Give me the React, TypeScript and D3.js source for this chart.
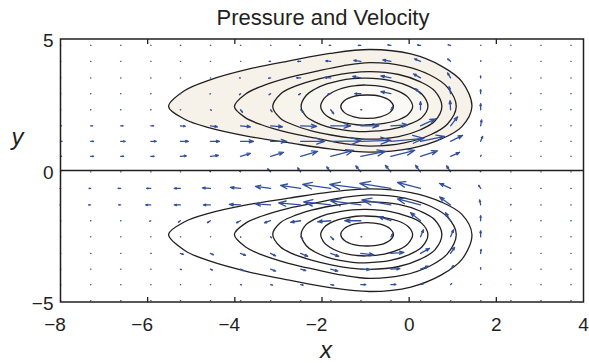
import React from 'react';
import * as d3 from 'd3';

const width = 589;
const height = 363;
const plot = { left: 60.5, right: 583.5, top: 39, bottom: 302 };

const xTicks = [-8, -6, -4, -2, 0, 2, 4];
const yTicks = [-5, 0, 5];

// quiver grid
const gridX = [-8.0, -7.31, -6.62, -5.93, -5.25, -4.56, -3.87, -3.18, -2.49, -1.8, -1.11, -0.42, 0.26, 0.95, 1.64, 2.33, 3.02, 3.71];
const gridY = [-4.95, -4.34, -3.75, -3.15, -2.52, -1.91, -1.31, -0.68, -0.05, 0.54, 1.11, 1.7, 2.31, 2.92, 3.52, 4.15, 4.76];

// velocity, one row per gridY value (bottom row first)
const uVel = [
  [.3, .3, .3, .3, .3, .3, .3, .3, .3, .3, .3, .3, .3, .3, .3, .3, .3, .3],
  [.3, .3, .3, .3, .3, .3, 1, 2, 2.5, 3, 5, 5, 3, 1, .3, .3, .3, .3],
  [.3, .3, .3, .3, 1, 2, 3, 5, 5, 7, 9, 9, 8, 3, 0, .3, .3, .3],
  [.3, .3, .3, .5, 3, 3, 5, 5, 7, 8, 13, 13, 9, 4, .5, .3, .3, .3],
  [.3, .3, .3, .3, .3, .3, .3, 1, 2, 3, 1, 2, 3, 3, 0, .3, .3, .3],
  [.3, .3, .3, -1, -2, -3, -4, -6, -10, -13, -16, -12, -10, -5, 0, .3, .3, .3],
  [-.5, -2, -2, -5, -6, -7, -11, -15, -22, -27, -30, -29, -23, -11, -1, .3, .3, .3],
  [-.5, -1.5, -2.5, -4, -6, -8, -10, -15, -20, -28, -31, -31, -23, -11, -2, .3, .3, .3],
  [.3, .3, .3, .3, .3, -.5, -1, -3, -3, -4, -5, -5.5, -5, -4, -.5, .3, .3, .3],
  [1, 3, 3, 3.5, 6, 8, 10, 13, 17, 23, 25, 24, 17, 9, .5, .3, .3, .3],
  [1.5, 3, 4.5, 5.5, 8, 9, 13, 16, 24, 30, 30, 33, 24, 12, 2, .5, .3, .3],
  [1, 2, 2.5, 3, 5, 7, 10, 12, 16, 20, 18, 17, 15, 7, 1, .3, .3, .3],
  [.3, .3, .3, .3, .3, 1, 2, 1.5, 3, 3, 1, 2, 0, -.5, 0, .2, .3, .3],
  [.3, .3, .3, .3, .3, -.5, -1, -1.5, -2, -3, -6, -10, -5, -1.5, 0, .2, .3, .3],
  [.3, .3, .3, .3, .3, .3, -1, -2, -4, -6, -8, -10, -7, -3, 0, .3, .3, .3],
  [.3, .3, .3, .3, .3, .3, .3, -1.5, -3, -5, -7, -8, -6, -3, .2, .3, .3, .3],
  [.3, .3, .3, .3, .3, .3, .3, .3, -1, -1.5, -2.5, -3, -3, -2.5, .3, .3, .3, .3],
];
const vVel = [
  [0, 0, 0, 0, 0, 0, 0, 0, 0, 0, 0, 0, 0, 0, 0, 0, 0, 0],
  [0, 0, 0, 0, 0, 0, -.3, -.5, -.5, -.5, 0, .3, 1, 1, .3, 0, 0, 0],
  [0, 0, 0, 0, -.5, -1, -1.5, -2, -1.5, -2, -.5, .5, 3, 3.5, 1.5, 0, 0, 0],
  [0, 0, 0, 0, -1, -1.5, -2, -2.5, -3, -3, -1.5, 1, 5, 6, 4, .5, 0, 0],
  [0, 0, 0, 0, 0, 0, -.5, -1, -2, -3, 0, 3, 7, 7, 6, .5, 0, 0],
  [0, 0, 0, -.5, -1.5, -2, -2, -2, -1.5, -1, 0, 4, 8, 8, 5, .5, 0, 0],
  [0, 0, 0, 0, 0, 0, .5, 1, 2, 3, 4, 5, 6, 8, 5, .5, 0, 0],
  [0, 0, 0, 0, 0, .5, 1, 2, 3, 4, 4, 5, 6, 5, 3, 0, 0, 0],
  [0, 0, 0, 0, 0, .5, 1, 3, 4, 5, 6, 6.5, 6.5, 6, 1, 0, 0, 0],
  [0, 0, 0, 0, .5, 1, 3, 4, 5, 6, 5, 6, 5.5, 4, 1, 0, 0, 0],
  [0, 0, 0, 0, 0, 0, 0, 0, 0, .5, 1, 3, 5, 6, 5, .5, 0, 0],
  [0, 0, 0, 0, -.5, -1, -1, -1, -.5, 0, 0, 1, 7, 9, 6, 1, 0, 0],
  [0, 0, 0, 0, 0, -.5, -2.5, -2, -3, -4, 0, 3, 8, 9, 6, .5, 0, 0],
  [0, 0, 0, 0, 0, -.3, -1, -1, -1, -.5, 0, 2, 5, 7, 4, .5, 0, 0],
  [0, 0, 0, 0, 0, 0, 0, -.3, 0, .5, 1.5, 2, 4, 5, 2, 0, 0, 0],
  [0, 0, 0, 0, 0, 0, 0, 0, 0, .5, 1, 1.5, 2.5, 2.5, .8, 0, 0, 0],
  [0, 0, 0, 0, 0, 0, 0, 0, 0, 0, 0, .3, .5, .5, 0, 0, 0, 0],
];

// pressure contours in the upper half, outermost first
const upperContours = [
  [[-5.52, 2.43], [-5.15, 3.04], [-4.6, 3.43], [-3.67, 3.86], [-2.75, 4.17], [-1.82, 4.45], [-0.9, 4.6], [0.04, 4.43], [0.74, 3.97], [1.21, 3.38], [1.44, 2.43], [1.21, 1.67], [0.74, 1.2], [0.04, 0.84], [-0.9, 0.7], [-1.82, 0.82], [-2.75, 1.05], [-3.67, 1.29], [-4.6, 1.63], [-5.15, 1.95]],
  [[-4.01, 2.43], [-3.76, 2.9], [-3.39, 3.2], [-2.77, 3.53], [-2.14, 3.77], [-1.52, 3.98], [-0.9, 4.1], [-0.11, 3.97], [0.49, 3.62], [0.88, 3.16], [1.08, 2.43], [0.88, 1.77], [0.49, 1.36], [-0.11, 1.05], [-0.9, 0.93], [-1.52, 1.03], [-2.14, 1.23], [-2.77, 1.44], [-3.39, 1.74], [-3.76, 2.01]],
  [[-3.13, 2.43], [-2.95, 2.91], [-2.68, 3.16], [-2.24, 3.41], [-1.79, 3.59], [-1.35, 3.71], [-0.9, 3.76], [-0.24, 3.65], [0.26, 3.37], [0.59, 3.02], [0.75, 2.43], [0.59, 1.88], [0.26, 1.55], [-0.24, 1.29], [-0.9, 1.19], [-1.35, 1.24], [-1.79, 1.35], [-2.24, 1.51], [-2.68, 1.75], [-2.95, 1.98]],
  [[-2.48, 2.43], [-2.36, 2.86], [-2.18, 3.08], [-1.89, 3.29], [-1.59, 3.42], [-1.3, 3.49], [-1.0, 3.51], [-0.43, 3.42], [0.0, 3.2], [0.29, 2.91], [0.43, 2.43], [0.29, 2.01], [0.0, 1.76], [-0.43, 1.56], [-1.0, 1.48], [-1.3, 1.5], [-1.59, 1.56], [-1.89, 1.67], [-2.18, 1.86], [-2.36, 2.05]],
  [[-2.03, 2.43], [-1.95, 2.74], [-1.82, 2.92], [-1.62, 3.08], [-1.41, 3.18], [-1.21, 3.23], [-1.0, 3.25], [-0.57, 3.18], [-0.24, 3.01], [-0.03, 2.79], [0.08, 2.43], [-0.03, 2.12], [-0.24, 1.93], [-0.57, 1.79], [-1.0, 1.73], [-1.21, 1.74], [-1.41, 1.79], [-1.62, 1.87], [-1.82, 2.0], [-1.95, 2.16]],
  [[-1.57, 2.43], [-1.49, 2.65], [-1.27, 2.82], [-0.97, 2.87], [-0.66, 2.82], [-0.44, 2.65], [-0.36, 2.43], [-0.44, 2.21], [-0.66, 2.04], [-0.97, 1.98], [-1.27, 2.04], [-1.49, 2.21]],
];
const upperFills = ['#f6f2e9', '#f6f2e9', '#f7f4ec', '#f8f6f0', '#fbf9f5', '#ffffff'];

// pressure contours in the lower half, outermost first
const lowerContours = [
  [[-5.52, -2.43], [-5.15, -3.04], [-4.6, -3.43], [-3.67, -3.86], [-2.75, -4.17], [-1.82, -4.45], [-0.9, -4.6], [0.04, -4.43], [0.74, -3.97], [1.21, -3.38], [1.44, -2.43], [1.21, -1.67], [0.74, -1.2], [0.04, -0.84], [-0.9, -0.7], [-1.82, -0.82], [-2.75, -1.05], [-3.67, -1.29], [-4.6, -1.63], [-5.15, -1.95]],
  [[-4.01, -2.43], [-3.76, -2.9], [-3.39, -3.2], [-2.77, -3.53], [-2.14, -3.77], [-1.52, -3.98], [-0.9, -4.1], [-0.11, -3.97], [0.49, -3.62], [0.88, -3.16], [1.08, -2.43], [0.88, -1.77], [0.49, -1.36], [-0.11, -1.05], [-0.9, -0.93], [-1.52, -1.03], [-2.14, -1.23], [-2.77, -1.44], [-3.39, -1.74], [-3.76, -2.01]],
  [[-3.13, -2.43], [-2.95, -2.91], [-2.68, -3.16], [-2.24, -3.41], [-1.79, -3.59], [-1.35, -3.71], [-0.9, -3.76], [-0.24, -3.65], [0.26, -3.37], [0.59, -3.02], [0.75, -2.43], [0.59, -1.88], [0.26, -1.55], [-0.24, -1.29], [-0.9, -1.19], [-1.35, -1.24], [-1.79, -1.35], [-2.24, -1.51], [-2.68, -1.75], [-2.95, -1.98]],
  [[-2.48, -2.43], [-2.36, -2.86], [-2.18, -3.08], [-1.89, -3.29], [-1.59, -3.42], [-1.3, -3.49], [-1.0, -3.51], [-0.43, -3.42], [0.0, -3.2], [0.29, -2.91], [0.43, -2.43], [0.29, -2.01], [0.0, -1.76], [-0.43, -1.56], [-1.0, -1.48], [-1.3, -1.5], [-1.59, -1.56], [-1.89, -1.67], [-2.18, -1.86], [-2.36, -2.05]],
  [[-2.03, -2.43], [-1.95, -2.74], [-1.82, -2.92], [-1.62, -3.08], [-1.41, -3.18], [-1.21, -3.23], [-1.0, -3.25], [-0.57, -3.18], [-0.24, -3.01], [-0.03, -2.79], [0.08, -2.43], [-0.03, -2.12], [-0.24, -1.93], [-0.57, -1.79], [-1.0, -1.73], [-1.21, -1.74], [-1.41, -1.79], [-1.62, -1.87], [-1.82, -2.0], [-1.95, -2.16]],
  [[-1.57, -2.43], [-1.49, -2.65], [-1.27, -2.82], [-0.97, -2.87], [-0.66, -2.82], [-0.44, -2.65], [-0.36, -2.43], [-0.44, -2.21], [-0.66, -2.04], [-0.97, -1.98], [-1.27, -2.04], [-1.49, -2.21]],
];

const ink = '#231f20';
const arrowColor = '#33509e';
const font = '"Liberation Sans", Arial, sans-serif';

export default function App() {
  const x = d3.scaleLinear().domain([-8, 4]).range([plot.left, plot.right]);
  const y = d3.scaleLinear().domain([-5, 5]).range([plot.bottom, plot.top]);

  const contourPath = d3.line<number[]>()
    .x(d => x(d[0]))
    .y(d => y(d[1]))
    .curve(d3.curveCatmullRomClosed.alpha(0.5));

  // matlab-style quiver: shaft plus two head strokes
  const arrowScale = 1;
  const head = 0.33;
  const spread = 0.36;
  const arrows: string[] = [];
  gridY.forEach((gy, i) => {
    gridX.forEach((gx, j) => {
      const x0 = x(gx);
      const y0 = y(gy);
      const dx = uVel[i][j] * arrowScale;
      const dy = -vVel[i][j] * arrowScale;
      const tx = x0 + dx;
      const ty = y0 + dy;
      const w1x = tx - head * (dx + spread * dy);
      const w1y = ty - head * (dy - spread * dx);
      const w2x = tx - head * (dx - spread * dy);
      const w2y = ty - head * (dy + spread * dx);
      arrows.push(`M${x0},${y0}L${tx},${ty}M${w1x},${w1y}L${tx},${ty}L${w2x},${w2y}`);
    });
  });

  const fmt = (v: number) => (v < 0 ? '\u2212' + Math.abs(v) : String(v));

  return (
    <svg width={width} height={height} style={{ position: 'absolute', left: 0, top: 0, background: '#fff' }}>
      <text x={323} y={25} textAnchor="middle" fontFamily={font} fontSize={22} fill={ink}>
        Pressure and Velocity
      </text>

      {upperContours.map((c, i) => (
        <path key={'uf' + i} d={contourPath(c) || ''} fill={upperFills[i]} stroke="none" />
      ))}
      {upperContours.map((c, i) => (
        <path key={'ul' + i} d={contourPath(c) || ''} fill="none" stroke={ink} strokeWidth={1.3} />
      ))}
      {lowerContours.map((c, i) => (
        <path key={'ll' + i} d={contourPath(c) || ''} fill="none" stroke={ink} strokeWidth={1.3} />
      ))}

      <path d={arrows.join('')} fill="none" stroke={arrowColor} strokeWidth={1.3} strokeLinecap="round" strokeLinejoin="round" />

      <line x1={x(-8)} x2={x(4)} y1={y(0)} y2={y(0)} stroke={ink} strokeWidth={1.3} />
      <rect x={plot.left} y={plot.top} width={plot.right - plot.left} height={plot.bottom - plot.top} fill="none" stroke={ink} strokeWidth={1.5} />

      {xTicks.slice(1, -1).map(t => (
        <g key={'xt' + t}>
          <line x1={x(t)} x2={x(t)} y1={plot.bottom} y2={plot.bottom - 5} stroke={ink} strokeWidth={1.3} />
          <line x1={x(t)} x2={x(t)} y1={plot.top} y2={plot.top + 5} stroke={ink} strokeWidth={1.3} />
        </g>
      ))}
      {xTicks.map(t => (
        <text key={'xl' + t} x={x(t) + 5.3} y={plot.bottom + 29} textAnchor="end" fontFamily={font} fontSize={19} fill={ink}>
          {fmt(t)}
        </text>
      ))}
      {yTicks.map(t => (
        <text key={'yl' + t} x={53.5} y={y(t) + 8} textAnchor="end" fontFamily={font} fontSize={19} fill={ink}>
          {fmt(t)}
        </text>
      ))}

      <text x={326} y={358} textAnchor="middle" fontFamily={font} fontSize={24} fontStyle="italic" fill={ink}>x</text>
      <text x={17.5} y={145} textAnchor="middle" fontFamily={font} fontSize={24} fontStyle="italic" fill={ink}>y</text>
    </svg>
  );
}
